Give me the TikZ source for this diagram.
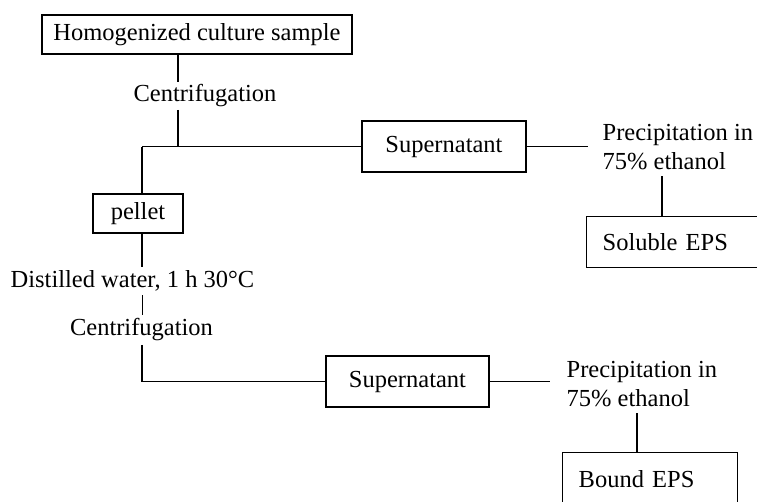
\documentclass[tikz,border=0pt]{standalone}
\usepackage{fontspec}
\setmainfont{Liberation Serif}
\begin{document}
\begin{tikzpicture}[x=1pt, y=-1pt, line width=1.4pt,
  box/.style={draw, rectangle, inner sep=0pt, font=\fontsize{24.5}{29}\selectfont},
  lbl/.style={inner sep=0pt, font=\fontsize{24.5}{29}\selectfont}]
\useasboundingbox (0,0) rectangle (757,501);
\node[box, minimum width=310, minimum height=39] (sample) at (197,34.5){Homogenized culture sample};
\node[lbl, inner ysep=2pt] (cent1) at (205,96){Centrifugation};
\coordinate (j1) at (178,146.5);
\coordinate (j2) at (142,146.5);
\node[box, minimum width=164, minimum height=51] (sup1) at (444,146.5){Supernatant};
\node[lbl, align=left, anchor=west, inner xsep=14pt, inner ysep=6pt] (prec1) at (588,147){Precipitation in\\75\% ethanol};
\coordinate (v1) at (662,200);
\node[box, anchor=north west, minimum height=51, text width=170, align=left, inner xsep=16pt] (eps1) at (586,216){Soluble EPS};
\draw[](sample.south -| j1) -- (cent1.north -| j1);
\draw[](cent1.south -| j1) -- (j1);
\draw[](j2) -- (sup1.west);
\draw[](sup1.east) -- (prec1.west |- sup1.east);
\draw[](prec1.south -| v1) -- (eps1.north -| v1);
\node[box, minimum width=90, minimum height=39] (pellet) at (138,213.5){pellet};
\draw[](j2) -- (pellet.north -| j2);
\node[lbl, inner ysep=3pt] (water) at (132.5,281){Distilled water, 1 h 30°C};
\node[lbl, inner ysep=3pt] (cent2) at (141.5,330){Centrifugation};
\coordinate (j3) at (142,381.5);
\draw[](pellet.south -| j3) -- (water.north -| j3);
\draw[line width=0.8pt](water.south -| j3) -- (cent2.north -| j3);
\draw[](cent2.south -| j3) -- (j3);
\node[box, minimum width=163, minimum height=51] (sup2) at (407.5,381.5){Supernatant};
\draw[](j3) -- (sup2.west);
\node[lbl, align=left, anchor=west, inner xsep=16pt, inner ysep=6pt] (prec2) at (550,384){Precipitation in\\75\% ethanol};
\draw[](sup2.east) -- (prec2.west |- sup2.east);
\coordinate (v2) at (637,430);
\node[box, anchor=north west, minimum height=52, minimum width=175, text width=143, align=left, inner xsep=16pt] (eps2) at (562,452){Bound EPS};
\draw[](prec2.south -| v2) -- (eps2.north -| v2);
\end{tikzpicture}
\end{document}
